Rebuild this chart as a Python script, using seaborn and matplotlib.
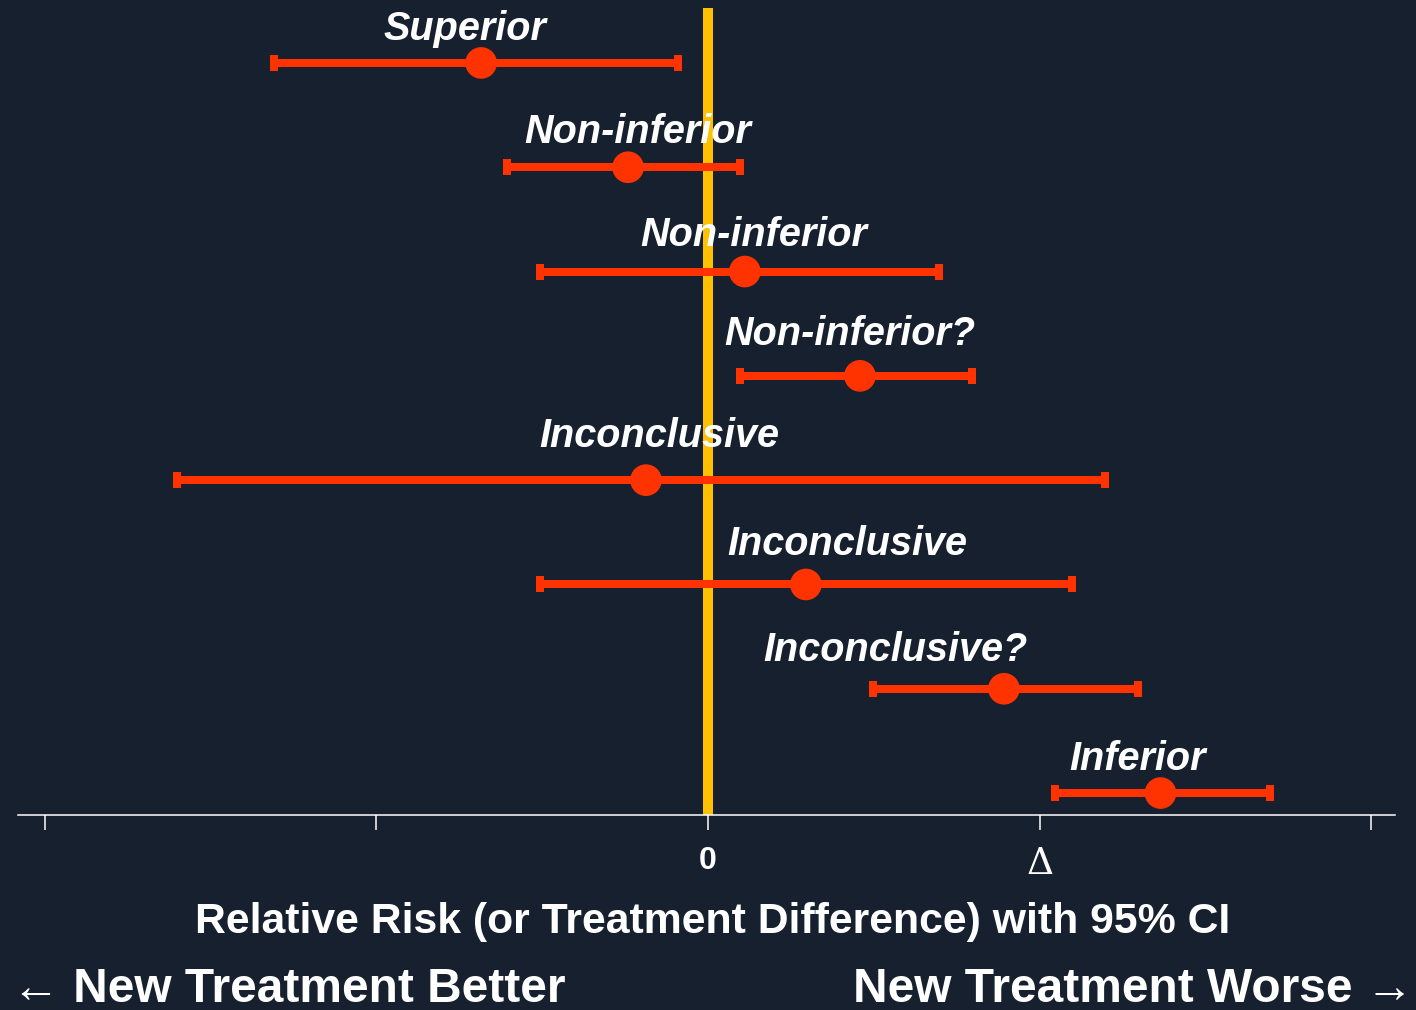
import numpy as np
import pandas as pd
import matplotlib
matplotlib.use("Agg")
import matplotlib.pyplot as plt
import seaborn as sns

# Trial outcomes: point estimate and 95% CI, in units of the margin Δ
outcomes = ["Superior", "Non-inferior", "Non-inferior", "Non-inferior?",
            "Inconclusive", "Inconclusive", "Inconclusive?", "Inferior"]
estimate = [-0.684, -0.241, 0.111, 0.458, -0.187, 0.295, 0.892, 1.364]
ci_low = [-1.307, -0.605, -0.506, 0.096, -1.602, -0.506, 0.497, 1.045]
ci_high = [-0.090, 0.096, 0.696, 0.795, 1.196, 1.096, 1.295, 1.693]

# Label placement: x centre in data units, baseline lift above the row in points
label_x = [-0.732, -0.211, 0.139, 0.428, -0.148, 0.419, 0.566, 1.295]
label_dy = [16.6, 17.3, 18.7, 22.3, 23.8, 20.9, 20.2, 16.6]

tick_values = [-2, -1, 0, 1, 2]
tick_labels = ["", "", "0", "Δ", ""]

BG = "#16202e"
RED = "#ff3300"
YELLOW = "#ffc000"
WHITE = "#ffffff"

sns.set_theme(style="dark")
plt.rcParams["font.family"] = ["Liberation Sans", "DejaVu Sans"]

df = pd.DataFrame({"outcome": outcomes, "est": estimate,
                   "lo": ci_low, "hi": ci_high, "row": np.arange(len(outcomes))})

fig = plt.figure(figsize=(14.16, 10.10), dpi=100, facecolor=BG)
ax = fig.add_axes([0.0127, 0.1931, 0.9725, 0.799])
ax.set_facecolor(BG)

# Reference line at zero difference
ax.axvline(0, color=YELLOW, lw=7.2, zorder=1)

# Confidence intervals
ax.errorbar(df["est"], df["row"],
            xerr=[df["est"] - df["lo"], df["hi"] - df["est"]],
            fmt="none", ecolor=RED, elinewidth=5.8, capsize=5.8,
            capthick=5.8, zorder=2)

# Point estimates
sns.scatterplot(data=df, x="est", y="row", ax=ax, color=RED, s=520,
                edgecolor="none", zorder=3, legend=False)

# Outcome labels above each interval
for x, dy, y, txt in zip(label_x, label_dy, df["row"], df["outcome"]):
    ax.annotate(txt, xy=(x, y), xytext=(0, dy), textcoords="offset points",
                ha="center", va="baseline", color=WHITE, fontsize=28.5,
                fontweight="bold", fontstyle="italic", zorder=4)

ax.set_xlim(-2.080, 2.071)
ax.set_ylim(7.21, -0.527)
ax.set_yticks([])
ax.set_ylabel("")
ax.set_xlabel("")

ax.set_xticks(tick_values)
ax.set_xticklabels(tick_labels)
ax.tick_params(axis="x", direction="out", length=11, width=1.1,
               color=WHITE, pad=11, bottom=True)
for lab in ax.get_xticklabels():
    lab.set_color(WHITE)
    if lab.get_text() == "Δ":
        lab.set_family(["DejaVu Serif", "Liberation Serif"])
        lab.set_fontsize(27)
    else:
        lab.set_fontsize(23)
        lab.set_fontweight("bold")

for side in ["top", "left", "right"]:
    ax.spines[side].set_visible(False)
ax.spines["bottom"].set_color(WHITE)
ax.spines["bottom"].set_linewidth(1.1)
ax.grid(False)

fig.text(713 / 1416, 1 - 922 / 1010,
         "Relative Risk (or Treatment Difference) with 95% CI",
         ha="center", va="center", color=WHITE, fontsize=30.8, fontweight="bold")
fig.text(12 / 1416, 1 - 990 / 1010, "← New Treatment Better",
         ha="left", va="center", color=WHITE, fontsize=34.5, fontweight="bold")
fig.text(1414 / 1416, 1 - 990 / 1010, "New Treatment Worse →",
         ha="right", va="center", color=WHITE, fontsize=34.5, fontweight="bold")

fig.savefig("out.png", dpi=100, facecolor=BG)
